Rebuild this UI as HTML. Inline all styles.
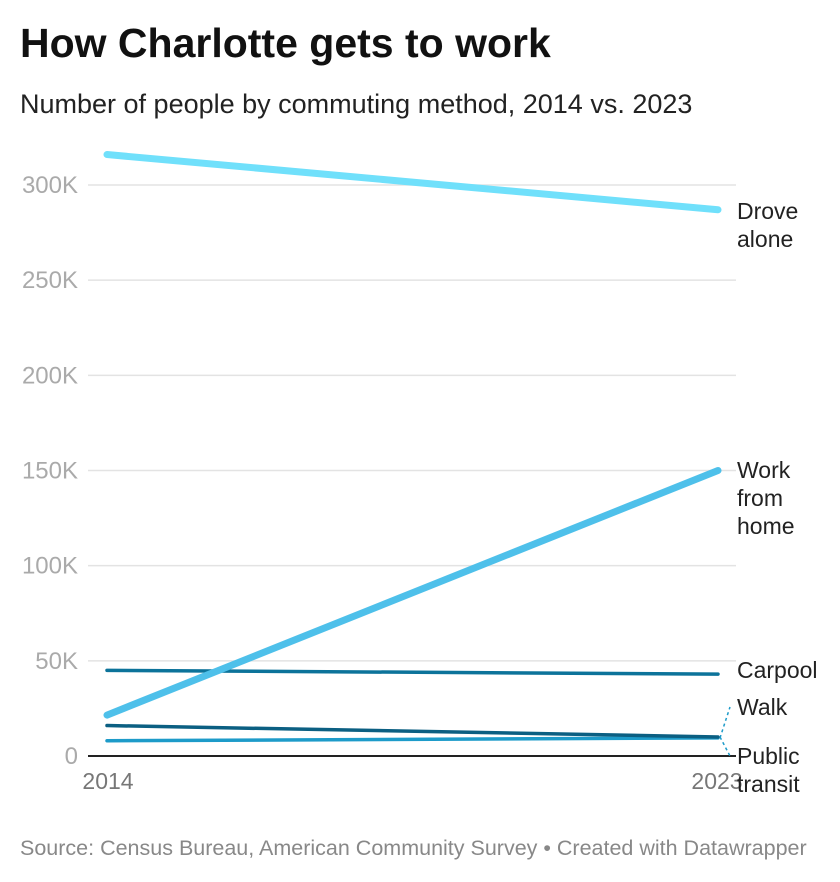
<!DOCTYPE html>
<html><head><meta charset="utf-8"><style>
body{margin:0;background:#fff;width:840px;height:882px;overflow:hidden;font-family:"Liberation Sans",sans-serif}
</style></head><body>
<div style="position:absolute;left:20px;top:20px;font-size:41px;font-weight:bold;color:#111">How Charlotte gets to work</div>
<div style="position:absolute;left:20px;top:89px;font-size:27px;color:#222">Number of people by commuting method, 2014 vs. 2023</div>
<svg id="chart" width="840" height="820" style="position:absolute;left:0;top:0"></svg>
<div style="position:absolute;left:20px;top:836px;font-size:21.5px;color:#888">Source: Census Bureau, American Community Survey • Created with Datawrapper</div>
<script>
const years=["2014","2023"];
const seriesNames=["Drove alone","Work from home","Carpool","Walk","Public transit"];
const droveAlone=[316000,287000];
const workFromHome=[21500,150000];
const carpool=[45000,43000];
const walk=[8000,9500];
const publicTransit=[16000,10000];
const yTicks=[0,50000,100000,150000,200000,250000,300000];
const yTickLabels=["0","50K","100K","150K","200K","250K","300K"];

const svg=document.getElementById('chart');
const NS="http://www.w3.org/2000/svg";
const x=i=>107+i*(718-107);
const y=v=>756-v*(571/300000);
function mk(t,a){const e=document.createElementNS(NS,t);for(const k in a)e.setAttribute(k,a[k]);svg.appendChild(e);return e;}
yTicks.forEach((t,i)=>{
  const g=mk('line',{x1:88,x2:736,y1:y(t),y2:y(t),stroke:t===0?'#222':'#e3e3e3','stroke-width':t===0?2:1.5});
  
  
  const l=mk('text',{x:78,y:y(t)+8,'text-anchor':'end','font-size':24,fill:'#aaa','font-family':'Liberation Sans'});
  l.textContent=yTickLabels[i];
  
  
});
years.forEach((yr,i)=>{
  const l=mk('text',{x:i===0?x(0)+1:x(1)-1,y:789,'text-anchor':'middle','font-size':23,fill:'#777','font-family':'Liberation Sans'});
  l.textContent=yr;
  
  
});
const series=[
  {d:walk,c:'#1d9bc9',w:3.5,lab:["Walk"],ly:715,tag:'walk'},
  {d:publicTransit,c:'#0b5f82',w:3.5,lab:["Public","transit"],ly:764,tag:'public-transit'},
  {d:carpool,c:'#0c739a',w:3.5,lab:["Carpool"],ly:678,tag:'carpool'},
  {d:workFromHome,c:'#4ec0ea',w:7,lab:["Work","from","home"],ly:478,tag:'work-from-home'},
  {d:droveAlone,c:'#70e0fb',w:7,lab:["Drove","alone"],ly:219,tag:'drove-alone'}
];
series.forEach(s=>{
  const p=mk('line',{x1:x(0),y1:y(s.d[0]),x2:x(1),y2:y(s.d[1]),stroke:s.c,'stroke-width':s.w,'stroke-linecap':'round'});
  
  
  const t=mk('text',{x:737,y:s.ly,'font-size':23,fill:'#222','font-family':'Liberation Sans'});
  s.lab.forEach((w,j)=>{const ts=document.createElementNS(NS,'tspan');ts.setAttribute('x',737);ts.setAttribute('dy',j?28:0);ts.textContent=w;t.appendChild(ts);});
  
  
});
[[y(walk[1]),707],[y(publicTransit[1]),756]].forEach(([a,b])=>{
  const c=mk('line',{x1:720,y1:a,x2:730,y2:b,stroke:'#1d9bc9','stroke-width':1.5,'stroke-dasharray':'3,3'});
  
  
});
</script>
</body></html>
